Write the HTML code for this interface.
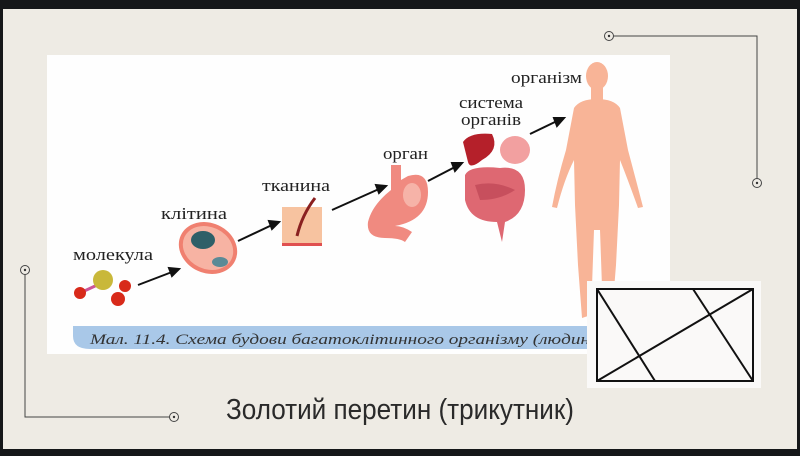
<!DOCTYPE html>
<html><head><meta charset="utf-8"><style>
html,body{margin:0;padding:0;background:#151719;}
svg{display:block}
.l{font-family:"Liberation Serif","DejaVu Serif",serif;font-size:17px;fill:#222}
</style></head><body>
<svg width="800" height="456" viewBox="0 0 800 456" xmlns="http://www.w3.org/2000/svg">
<rect x="0" y="0" width="800" height="456" fill="#151719"/>
<rect x="3" y="9" width="794" height="440" fill="#eeebe4"/>
<rect x="47" y="55" width="623" height="299" fill="#fefefe"/>
<path d="M73 326 H600 V349 H90 Q73 349 73 336 Z" fill="#a9c8e8"/>
<text x="90" y="344" font-family="Liberation Serif,serif" font-style="italic" font-size="15" fill="#333" textLength="500" lengthAdjust="spacingAndGlyphs">Мал. 11.4. Схема будови багатоклітинного організму (людин</text>
<text class="l" x="73" y="260" textLength="80" lengthAdjust="spacingAndGlyphs">молекула</text>
<text class="l" x="161" y="219" textLength="66" lengthAdjust="spacingAndGlyphs">клітина</text>
<text class="l" x="262" y="191" textLength="68" lengthAdjust="spacingAndGlyphs">тканина</text>
<text class="l" x="383" y="159" textLength="45" lengthAdjust="spacingAndGlyphs">орган</text>
<text class="l" x="459" y="108" textLength="64" lengthAdjust="spacingAndGlyphs">система</text>
<text class="l" x="461" y="125" textLength="60" lengthAdjust="spacingAndGlyphs">органів</text>
<text class="l" x="511" y="83" textLength="71" lengthAdjust="spacingAndGlyphs">організм</text>
<g stroke="#111" stroke-width="2" fill="#111">
<line x1="138" y1="285" x2="172" y2="272"/><polygon points="179,269 169,268 172,276"/>
<line x1="238" y1="241" x2="272" y2="225"/><polygon points="279,222 269,221 272,229"/>
<line x1="332" y1="210" x2="379" y2="189"/><polygon points="386,186 376,185 379,193"/>
<line x1="428" y1="181" x2="455" y2="167"/><polygon points="462,163 452,163 455,171"/>
<line x1="530" y1="134" x2="557" y2="121"/><polygon points="564,118 554,118 557,126"/>
</g>
<line x1="80" y1="293" x2="108" y2="280" stroke="#c59" stroke-width="3"/>
<circle cx="103" cy="280" r="10" fill="#c9b83a"/>
<circle cx="80" cy="293" r="6" fill="#d82a1a"/>
<circle cx="125" cy="286" r="6" fill="#d82a1a"/>
<circle cx="118" cy="299" r="7" fill="#d82a1a"/>
<ellipse cx="208" cy="248" rx="30" ry="25" transform="rotate(25 208 248)" fill="#f08070"/>
<ellipse cx="208" cy="248" rx="26" ry="21" transform="rotate(25 208 248)" fill="#f7b3a3"/>
<ellipse cx="203" cy="240" rx="12" ry="9" fill="#2e5f68"/>
<ellipse cx="220" cy="262" rx="8" ry="5" fill="#5b8a96"/>
<rect x="282" y="207" width="40" height="39" fill="#f7c3a0"/>
<rect x="282" y="243" width="40" height="3" fill="#e05050"/>
<path d="M297 236 Q302 215 315 198" stroke="#8a2020" stroke-width="3" fill="none"/>
<path d="M391 165 L391 190 Q372 205 368 222 Q366 238 385 238 Q400 238 405 242 L412 232 Q403 226 395 226 Q428 220 428 192 Q428 170 408 176 L401 180 L401 165 Z" fill="#f08a80"/>
<ellipse cx="412" cy="195" rx="9" ry="12" fill="#f6b3a8"/>
<path d="M463 142 Q470 132 492 134 Q500 150 482 160 Q470 170 468 162 Z" fill="#b5202a"/>
<ellipse cx="515" cy="150" rx="15" ry="14" fill="#f2a0a0"/>
<path d="M465 175 Q470 165 500 168 Q525 165 525 190 Q525 215 505 222 L502 242 L497 222 Q470 222 465 200 Z" fill="#de6872"/>
<path d="M475 185 Q495 180 515 190 Q500 200 480 200 Z" fill="#b84050" opacity="0.6"/>
<g fill="#f8b497">
<ellipse cx="597" cy="76" rx="11" ry="14"/>
<rect x="591" y="86" width="12" height="14"/>
<path d="M574 108 Q580 99 597 99 Q614 99 620 108 L628 150 Q636 180 643 207 L638 208 Q628 180 620 160 L619 205 L616 265 L612 315 L603 315 L600 230 L594 230 L591 315 L582 318 L578 265 L575 205 L574 160 Q564 180 557 208 L552 207 Q557 180 566 150 Z"/>
</g>
<g stroke="#444" stroke-width="1" fill="none">
<polyline points="613,36 757,36 757,179"/>
<circle cx="609" cy="36" r="4.5"/><circle cx="757" cy="183" r="4.5"/>
<polyline points="25,274 25,417 170,417"/>
<circle cx="25" cy="270" r="4.5"/><circle cx="174" cy="417" r="4.5"/>
</g>
<g fill="#333"><circle cx="609" cy="36" r="1.2"/><circle cx="757" cy="183" r="1.2"/><circle cx="25" cy="270" r="1.2"/><circle cx="174" cy="417" r="1.2"/></g>
<rect x="587" y="281" width="174" height="107" fill="#faf9f8"/>
<g stroke="#111" stroke-width="2" fill="none" stroke-linecap="round">
<rect x="597" y="289" width="156" height="92"/>
<line x1="597" y1="289" x2="655" y2="381"/>
<line x1="693" y1="289" x2="753" y2="381"/>
<line x1="597" y1="381" x2="753" y2="289"/>
</g>
<text x="226" y="419" font-family="'Liberation Sans Narrow','Liberation Sans',sans-serif" font-size="29" fill="#2a2a2a" textLength="348" lengthAdjust="spacingAndGlyphs">Золотий перетин (трикутник)</text>
</svg>
</body></html>
